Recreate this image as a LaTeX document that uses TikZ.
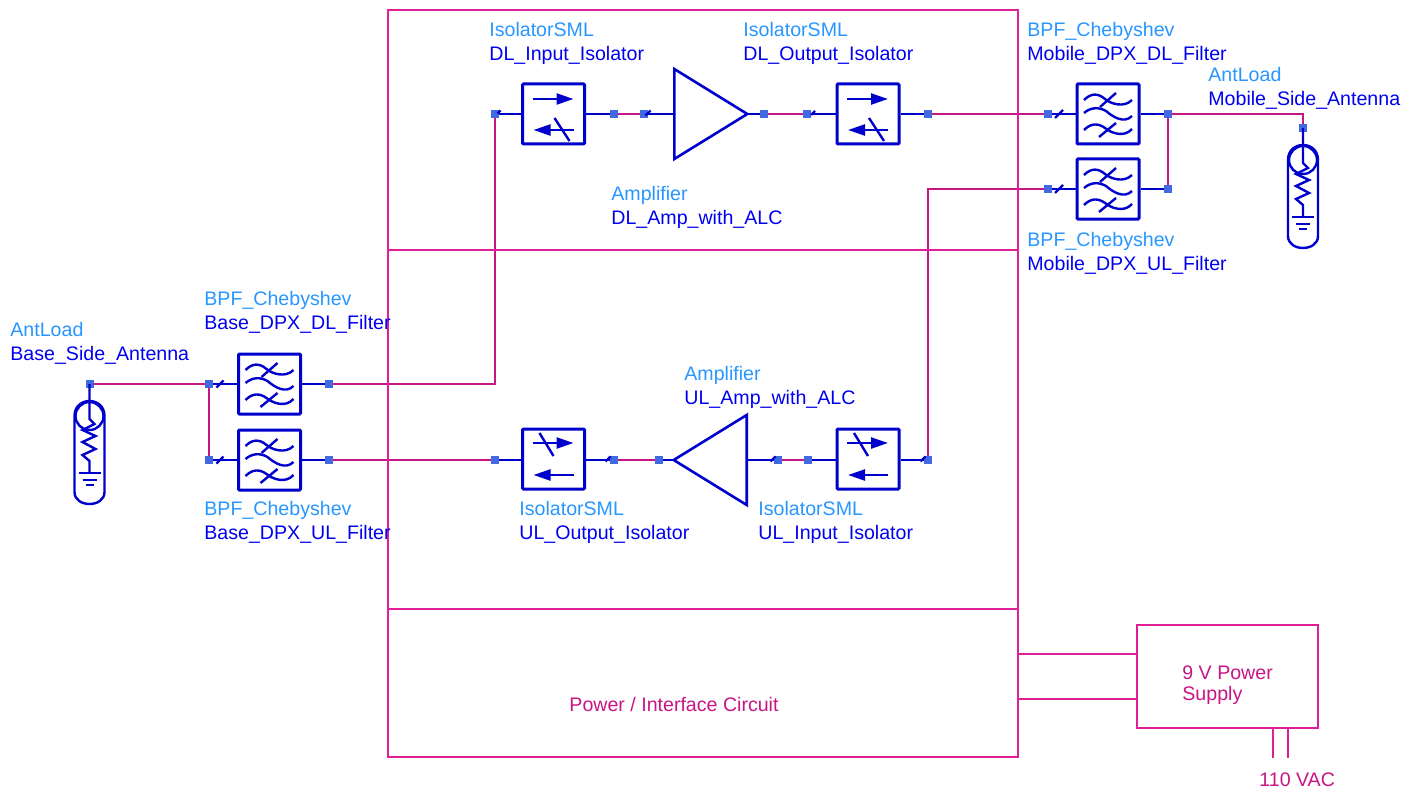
\documentclass[tikz,border=0pt]{standalone}
\usepackage{fontspec}
\setmainfont{Liberation Sans}
\usetikzlibrary{arrows.meta,positioning,shapes.geometric,backgrounds}
\definecolor{wireblue}{RGB}{0,0,204}
\definecolor{portblue}{RGB}{65,105,225}
\definecolor{typeblue}{RGB}{40,150,255}
\definecolor{nameblue}{RGB}{0,0,240}
\definecolor{wirepink}{RGB}{199,21,133}
\definecolor{framepink}{RGB}{224,30,150}
\tikzset{
  pics/isolatorfwd/.style={code={
    \draw[symline, -{Triangle[length=8.5pt,width=5.5pt]}] (-21,-15) -- (20,-15);
    \draw[symline, -{Triangle[length=8.5pt,width=5.5pt]}] (20,16) -- (-20,16);
    \draw[symline] (1,4) -- (16,27);
  }},
  pics/isolatorrev/.style={code={
    \draw[symline, -{Triangle[length=8.5pt,width=5.5pt]}] (-21,-16) -- (20,-16);
    \draw[symline, -{Triangle[length=8.5pt,width=5.5pt]}] (20,16) -- (-20,16);
    \draw[symline] (-14,-26) -- (0,-3);
  }},
  pics/bpfsym/.style={code={
    \draw[symline] (-24,-14) .. controls (-17,-21) and (-10,-21) .. (-3,-15)
      .. controls (3,-10) and (16,-6) .. (24,-14);
    \draw[symline] (-8,-7) -- (8,-21);
    \draw[symline] (-24,-1) .. controls (-17,-7) and (-9,-7) .. (-2,-3)
      .. controls (5,3) and (16,10) .. (24,2);
    \draw[symline] (-24,16) .. controls (-17,9) and (-10,9) .. (-3,14)
      .. controls (3,19) and (16,24) .. (24,15);
    \draw[symline] (-9,23) -- (8,9);
  }},
  pics/antload/.style={code={
    \draw[symline] (0,32) circle [radius=14];
    \draw[symline] (-15,32) .. controls (-15,12) and (15,12) .. (15,32)
      -- (15,108) .. controls (15,124) and (-15,124) .. (-15,108) -- cycle;
    \draw[symline] (0,0) -- (0,35) -- (5,40) -- (-7,46) -- (6,52) -- (-7,58)
      -- (6,65) -- (-7,71) -- (0,77) -- (0,89);
    \draw[symline] (-11,89) -- (11,89);
    \draw[symline] (-7,96) -- (7,96);
    \draw[symline] (-4,101) -- (4,101);
  }}
}
\begin{document}
\begin{tikzpicture}[
  x=0.5pt, y=-0.5pt,
  symline/.style={draw=wireblue, line width=1.2pt},
  partbox/.style={rectangle, draw=wireblue, line width=1.5pt, inner sep=0pt,
    minimum width=31pt, minimum height=30pt, rounded corners=0.5pt},
  ampup/.style={isosceles triangle, isosceles triangle stretches, draw=wireblue,
    line width=1.3pt, inner sep=0pt, minimum height=36.5pt, minimum width=45pt},
  port/.style={rectangle, fill=portblue, inner sep=0pt, minimum size=4pt},
  bluewire/.style={draw=wireblue, line width=1.2pt},
  pinkwire/.style={draw=wirepink, line width=1.3pt},
  framebox/.style={rectangle, draw=framepink, line width=0.6pt, inner sep=0pt},
  frameline/.style={draw=framepink, line width=0.6pt},
  partlabel/.style={anchor=west, inner sep=0pt, align=left, text=nameblue,
    font=\fontsize{9.8}{12}\selectfont},
  framelabel/.style={inner sep=0pt, align=left, text=wirepink,
    font=\fontsize{9.8}{10.2}\selectfont}
]
\useasboundingbox (0,0) rectangle (1419,792);

% Frames
\node[framebox, minimum width=315pt, minimum height=120pt] (dlframe) at (703,130) {};
\node[framebox, minimum width=315pt, minimum height=179.5pt] (ulframe) at (703,429.5) {};
\node[framebox, minimum width=315pt, minimum height=74pt] (pwrframe) at (703,683) {};
\node[framebox, minimum width=90.5pt, minimum height=51.5pt] (supply) at (1227.5,676.5) {};
\node[framelabel] (pwrtext) at (674,704) {Power / Interface Circuit};
\node[framelabel, anchor=west] (supplytext) at (1182,685) {9 V Power\\Supply};
\node[framelabel, anchor=west] (vactext) at (1259,780) {110 VAC};

% Parts
\node[partbox] (dlin) at (553.5,114) {};
\node[partbox] (dlout) at (868,114) {};
\node[partbox] (ulout) at (553.5,459) {};
\node[partbox] (ulin) at (868,459) {};
\node[partbox] (mobdl) at (1108,114) {};
\node[partbox] (mobul) at (1108,189) {};
\node[partbox] (basedl) at (269.5,384) {};
\node[partbox] (baseul) at (269.5,460) {};
\node[ampup, anchor=lower side] (dlamp) at (673,114) {};
\node[ampup, shape border rotate=180, anchor=lower side] (ulamp) at (748,460) {};

% Ports
\node[port] (dlinp) at (495,114) {};
\node[port] (dlinq) at (613.5,114) {};
\node[port] (dlampp) at (643.5,114) {};
\node[port] (dlampq) at (764,114) {};
\node[port] (dloutp) at (807,114) {};
\node[port] (dloutq) at (928,114) {};
\node[port] (mobdlp) at (1048,114) {};
\node[port] (mobdlq) at (1168,114) {};
\node[port] (mobulp) at (1048,189) {};
\node[port] (mobulq) at (1168,189) {};
\node[port] (mobant) at (1303,128) {};
\node[port] (baseant) at (89.5,384) {};
\node[port] (basedlp) at (209,384) {};
\node[port] (basedlq) at (329,384) {};
\node[port] (baseulp) at (209,460) {};
\node[port] (baseulq) at (329,460) {};
\node[port] (uloutp) at (494.5,460) {};
\node[port] (uloutq) at (614,460) {};
\node[port] (ulampp) at (659,460) {};
\node[port] (ulampq) at (778,460) {};
\node[port] (ulinp) at (808,460) {};
\node[port] (ulinq) at (928,460) {};

% Symbols
\pic at (dlin) {isolatorfwd};
\pic at (dlout) {isolatorfwd};
\pic at (ulout) {isolatorrev};
\pic at (ulin) {isolatorrev};
\pic at (mobdl) {bpfsym};
\pic at (mobul) {bpfsym};
\pic at (basedl) {bpfsym};
\pic at (baseul) {bpfsym};
\pic at (mobant) {antload};
\pic at (baseant) {antload};

% Labels
\node[partlabel] (dlinlabel) at (489,43) {\textcolor{typeblue}{IsolatorSML}\\DL\_Input\_Isolator};
\node[partlabel] (dloutlabel) at (743,43) {\textcolor{typeblue}{IsolatorSML}\\DL\_Output\_Isolator};
\node[partlabel] (mobdllabel) at (1027,43) {\textcolor{typeblue}{BPF\_Chebyshev}\\Mobile\_DPX\_DL\_Filter};
\node[partlabel] (mobantlabel) at (1208,88) {\textcolor{typeblue}{AntLoad}\\Mobile\_Side\_Antenna};
\node[partlabel] (dlamplabel) at (611,207.5) {\textcolor{typeblue}{Amplifier}\\DL\_Amp\_with\_ALC};
\node[partlabel] (mobullabel) at (1027,253) {\textcolor{typeblue}{BPF\_Chebyshev}\\Mobile\_DPX\_UL\_Filter};
\node[partlabel] (basedllabel) at (204,312) {\textcolor{typeblue}{BPF\_Chebyshev}\\Base\_DPX\_DL\_Filter};
\node[partlabel] (baseantlabel) at (10,343) {\textcolor{typeblue}{AntLoad}\\Base\_Side\_Antenna};
\node[partlabel] (ulamplabel) at (684,387) {\textcolor{typeblue}{Amplifier}\\UL\_Amp\_with\_ALC};
\node[partlabel] (baseullabel) at (204,522.5) {\textcolor{typeblue}{BPF\_Chebyshev}\\Base\_DPX\_UL\_Filter};
\node[partlabel] (uloutlabel) at (519,522.5) {\textcolor{typeblue}{IsolatorSML}\\UL\_Output\_Isolator};
\node[partlabel] (ulinlabel) at (758,522.5) {\textcolor{typeblue}{IsolatorSML}\\UL\_Input\_Isolator};

% Power connectors
\coordinate (pwrhigh) at (pwrframe.east |- 0,654);
\coordinate (pwrlow) at (pwrframe.east |- 0,699);
\coordinate (acleft) at (1273,758);
\coordinate (acright) at (1288,758);
\draw[frameline] (pwrhigh) -- (pwrhigh -| supply.west);
\draw[frameline] (pwrlow) -- (pwrlow -| supply.west);
\draw[frameline] (acleft) -- (acleft |- supply.south);
\draw[frameline] (acright) -- (acright |- supply.south);

\begin{scope}[on background layer]
% Blue stubs
\draw[bluewire] (dlinp.center) -- (dlin);
\draw[bluewire] (dlin) -- (dlinq.center);
\draw[bluewire] (dlampp.center) -- (dlamp.lower side);
\draw[bluewire, shorten <=-2.5pt] (dlamp.apex) -- (dlampq.center);
\draw[bluewire] (dloutp.center) -- (dlout);
\draw[bluewire] (dlout) -- (dloutq.center);
\draw[bluewire] (mobdlp.center) -- (mobdl);
\draw[bluewire] (mobdl) -- (mobdlq.center);
\draw[bluewire] (mobulp.center) -- (mobul);
\draw[bluewire] (mobul) -- (mobulq.center);
\draw[bluewire] (basedlp.center) -- (basedl);
\draw[bluewire] (basedl) -- (basedlq.center);
\draw[bluewire] (baseulp.center) -- (baseul);
\draw[bluewire] (baseul) -- (baseulq.center);
\draw[bluewire] (uloutp.center) -- (ulout.west |- uloutp);
\draw[bluewire] (ulout.east |- uloutq) -- (uloutq.center);
\draw[bluewire, shorten >=-2.5pt] (ulampp.center) -- (ulamp.apex);
\draw[bluewire] (ulamp.lower side) -- (ulampq.center);
\draw[bluewire] (ulinp.center) -- (ulin.west |- ulinp);
\draw[bluewire] (ulin.east |- ulinq) -- (ulinq.center);

% Pink lines
\draw[pinkwire] (dlinq.center) -- (dlampp.center);
\draw[pinkwire] (dlampq.center) -- (dloutp.center);
\draw[pinkwire] (dloutq.center) -- (mobdlp.center);
\draw[pinkwire] (mobdlq.center) -| (mobant.center);
\draw[pinkwire] (mobdlq.center) -- (mobulq.center);
\draw[pinkwire] (ulinq.center) |- (mobulp.center);
\draw[pinkwire] (uloutq.center) -- (ulampp.center);
\draw[pinkwire] (ulampq.center) -- (ulinp.center);
\draw[pinkwire] (baseulq.center) -- (uloutp.center);
\draw[pinkwire] (basedlq.center) -| (dlinp.center);
\draw[pinkwire] (baseant.center) -- (basedlp.center);
\draw[pinkwire] (basedlp.center) -- (baseulp.center);
\end{scope}

% Ticks
\foreach \tx/\ty/\ts in {220/384/3.5, 220/460/3.5, 1059/114/4, 1059/189/4,
    648/113/2.5, 813/113/2, 499/112/1.5, 608/459/2.5, 773/459/2.5, 923/459/2.5}
  \draw[symline] (\tx-\ts,\ty+\ts) -- (\tx+\ts,\ty-\ts);
\end{tikzpicture}
\end{document}
